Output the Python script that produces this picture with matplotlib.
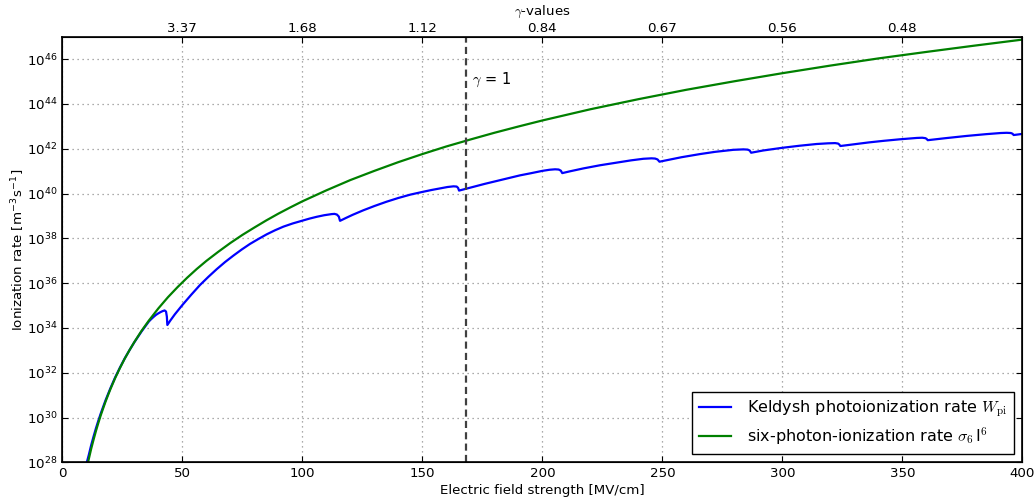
import matplotlib
matplotlib.use("Agg")
import matplotlib.pyplot as plt
import numpy as np
from matplotlib.ticker import NullLocator

# ---- data (x in MV/cm, y as log10 of rate) ----
green_x = [10.7, 11, 12, 13, 14, 15, 16, 17, 18, 19, 20, 22, 24, 26, 28, 30, 33, 36,
           40, 44, 48, 52, 56, 60, 65, 70, 75, 80, 85, 90, 95, 100, 110, 120, 130,
           140, 150, 160, 170, 180, 190, 200, 220, 240, 260, 280, 300, 320, 340,
           360, 380, 400]
green_log = [28.00, 28.14, 28.60, 29.01, 29.40, 29.76, 30.10, 30.41, 30.71, 30.99,
             31.26, 31.76, 32.21, 32.63, 33.01, 33.37, 33.87, 34.32, 34.87, 35.37,
             35.82, 36.24, 36.63, 36.99, 37.40, 37.79, 38.15, 38.48, 38.80, 39.10,
             39.38, 39.65, 40.14, 40.60, 41.01, 41.40, 41.76, 42.10, 42.41, 42.71,
             42.99, 43.26, 43.76, 44.21, 44.63, 45.01, 45.37, 45.71, 46.03, 46.32,
             46.60, 46.87]

blue_x = [10.2, 11, 12, 13, 14, 15, 16, 17, 18, 19, 20, 22, 24, 26, 28, 30, 33, 36,
          37, 38, 39, 40, 41, 41.8, 42.6, 43.2, 43.55, 43.75,
          45, 46.9, 50, 53.7, 57.4, 60.85, 64.3, 67.8, 71.3, 74.75, 78.2, 81.7,
          85.2, 88.65, 92.1, 96.05, 100, 103, 106, 109.1, 112.2, 113.4, 114.4,
          115.2, 115.7,
          118, 121, 125.4, 130, 135, 140, 145, 150, 154, 157.4, 160.5, 163,
          164.3, 164.9, 165.3,
          168.5, 172, 176, 181, 186, 190.7, 195, 200, 203, 205.3, 206.8, 207.7, 208.3,
          211.5, 217.1, 224, 231, 237, 242.1, 245.5, 247, 248, 248.8,
          252, 258, 265.7, 272, 279.6, 283.8, 285.5, 286.4, 287,
          292, 300, 307, 314.3, 319, 322, 323.2, 323.7, 324.2,
          330, 336, 342.1, 349, 356, 358.3, 359.6, 360.1, 360.6,
          368, 376.8, 385, 391, 393.5, 395.2, 395.9, 396.4, 399.8, 400]
blue_log = [28.00, 28.32, 28.76, 29.15, 29.52, 29.86, 30.18, 30.48, 30.77, 31.04,
            31.30, 31.79, 32.23, 32.64, 33.01, 33.36, 33.84, 34.28,
            34.39, 34.49, 34.58, 34.65, 34.71, 34.75, 34.78, 34.73, 34.50, 34.13,
            34.33, 34.61, 35.02, 35.48, 35.92, 36.28, 36.62, 36.94, 37.23, 37.50,
            37.75, 37.97, 38.18, 38.36, 38.52, 38.665, 38.79, 38.88, 38.96, 39.03,
            39.08, 39.09, 39.06, 38.97, 38.78,
            38.90, 39.05, 39.25, 39.44, 39.63, 39.80, 39.95, 40.07, 40.16, 40.23,
            40.29, 40.32, 40.31, 40.25, 40.13,
            40.22, 40.32, 40.43, 40.56, 40.69, 40.81, 40.90, 41.01, 41.06, 41.08,
            41.07, 41.02, 40.91,
            40.99, 41.12, 41.26, 41.38, 41.48, 41.55, 41.57, 41.56, 41.52, 41.42,
            41.49, 41.62, 41.76, 41.86, 41.95, 41.97, 41.96, 41.92, 41.82,
            41.92, 42.04, 42.13, 42.21, 42.24, 42.25, 42.23, 42.19, 42.12,
            42.20, 42.28, 42.35, 42.42, 42.48, 42.49, 42.47, 42.44, 42.38,
            42.47, 42.57, 42.65, 42.70, 42.71, 42.70, 42.67, 42.61, 42.66, 42.66]

gamma_one_x = 168.4
x_ticks = [0, 50, 100, 150, 200, 250, 300, 350, 400]
top_ticks = [50, 100, 150, 200, 250, 300, 350]
top_labels = ["3.37", "1.68", "1.12", "0.84", "0.67", "0.56", "0.48"]
y_tick_exps = [28, 30, 32, 34, 36, 38, 40, 42, 44, 46]

label_blue = r"Keldysh photoionization rate $W_{\rm pi}$"
label_green = r"six-photon-ionization rate $\sigma_6\,$I$^6$"

# ---- plotting ----
plt.rcParams['font.family'] = ['DejaVu Sans']
plt.rcParams['mathtext.fontset'] = 'cm'
plt.rcParams['font.size'] = 9.6

FS = 9.6
fig = plt.figure(figsize=(10.34, 5.0), dpi=100, facecolor='white')
ax = fig.add_axes([0.0603, 0.0754, 0.9284, 0.8512])

ax.plot(blue_x, 10.0 ** np.array(blue_log), color='#0000ff', lw=1.6, label=label_blue)
ax.plot(green_x, 10.0 ** np.array(green_log), color='#008000', lw=1.6, label=label_green)
ax.axvline(gamma_one_x, color='#404040', lw=1.6, linestyle=(0, (3.2, 1.9)))
ax.text(gamma_one_x + 2.3, 10 ** 45.07, r"$\gamma$ = 1", ha='left', va='center', fontsize=10.5)

ax.set_yscale('log')
ax.set_xlim(0, 400)
ax.set_ylim(1e28, 1e47)
ax.set_xticks(x_ticks)
ax.set_yticks([10.0 ** e for e in y_tick_exps])
ax.yaxis.set_minor_locator(NullLocator())
ax.xaxis.set_minor_locator(NullLocator())
ax.grid(True, which='major', linestyle=(0, (1, 3)), color='#909090', lw=0.9)
ax.tick_params(direction='in', length=4, width=0.8, labelsize=FS, right=True, top=False)
ax.set_xlabel("Electric field strength [MV/cm]", fontsize=FS, labelpad=3)
ax.set_ylabel(r"Ionization rate [m$^{\mathdefault{-3}}$s$^{\mathdefault{-1}}$]", fontsize=FS, labelpad=1)
for s in ax.spines.values():
    s.set_linewidth(1.2)

ax2 = ax.twiny()
ax2.set_xlim(ax.get_xlim())
ax2.set_xticks(top_ticks)
ax2.set_xticklabels(top_labels)
ax2.xaxis.set_minor_locator(NullLocator())
ax2.tick_params(direction='in', length=4, width=0.8, labelsize=FS, pad=1.5)
ax2.set_xlabel(r"$\gamma$-values", fontsize=FS, labelpad=5)

leg = ax.legend(loc='lower right', fontsize=11.5, fancybox=False, framealpha=1.0,
                edgecolor='black', handlelength=2.0, borderaxespad=0.55,
                borderpad=0.4, labelspacing=0.4, handletextpad=1.0)
leg.get_frame().set_linewidth(1.0)

fig.savefig("out.png", dpi=100, facecolor='white')
